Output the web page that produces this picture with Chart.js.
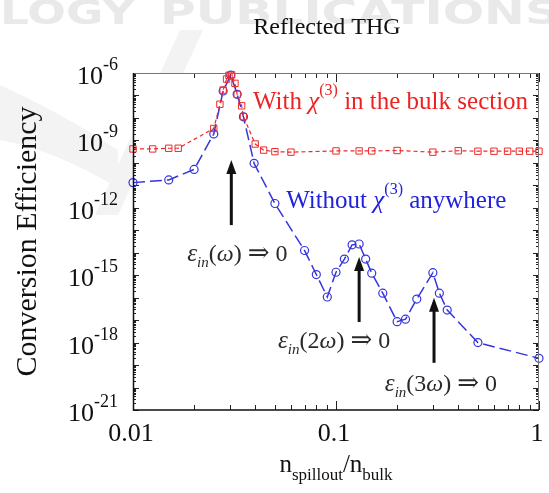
<!DOCTYPE html>
<html><head><meta charset="utf-8">
<script src="https://cdn.jsdelivr.net/npm/chart.js@4/dist/chart.umd.min.js"></script>
<style>html,body{margin:0;padding:0;background:#fff;overflow:hidden}canvas{display:block}</style>
</head><body><canvas id="c" width="549" height="493"></canvas>
<script>
const SERIF = '"Liberation Serif","Times New Roman","DejaVu Serif",serif';

// ---- data ----
const blueX = [0.01, 0.015, 0.02, 0.025, 0.0278, 0.0303, 0.0326, 0.035, 0.0395, 0.05, 0.07, 0.08, 0.0906, 0.1, 0.11, 0.12, 0.13, 0.14, 0.15, 0.17, 0.2, 0.22, 0.25, 0.3, 0.323, 0.353, 0.5, 1.0];
const blueY = [1.32e-11, 1.74e-11, 5.1e-11, 1.95e-9, 1.58e-7, 8.1e-7, 1.12e-7, 1.12e-8, 9.5e-11, 1.55e-12, 1.26e-14, 1.07e-15, 1.07e-16, 1.35e-15, 5.2e-15, 2.24e-14, 2.45e-14, 5.2e-15, 1.23e-15, 1.58e-16, 8.5e-18, 1.1e-17, 8.7e-17, 1.29e-15, 1.58e-16, 2.8e-17, 1.0e-18, 2.0e-19];
const redX = [0.01, 0.0125, 0.015, 0.0167, 0.025, 0.0268, 0.0278, 0.0289, 0.0297, 0.0306, 0.0318, 0.0326, 0.0343, 0.035, 0.04, 0.044, 0.05, 0.06, 0.1, 0.13, 0.15, 0.2, 0.3, 0.4, 0.5, 0.6, 0.7, 0.8, 0.9, 1.0];
const redY = [4.17e-10, 4.17e-10, 4.47e-10, 4.47e-10, 3.39e-9, 4.07e-8, 1.74e-7, 5.37e-7, 7.9e-7, 8.3e-7, 3.47e-7, 1.12e-7, 3.47e-8, 1.15e-8, 6.9e-10, 3.7e-10, 3.16e-10, 3.0e-10, 3.4e-10, 3.4e-10, 3.4e-10, 3.55e-10, 3.0e-10, 3.47e-10, 3.3e-10, 3.3e-10, 3.3e-10, 3.3e-10, 3.3e-10, 3.3e-10];

const xTickValues = [0.01, 0.1, 1];
const xTickLabels = ['0.01', '0.1', '1'];
const yTickValues = [1e-6, 1e-9, 1e-12, 1e-15, 1e-18, 1e-21];
const yTickExponents = ['-6', '-9', '-12', '-15', '-18', '-21'];
const titleText = 'Reflected THG';
const yTitleText = 'Conversion Efficiency';
const redLabel = ['With ', 'χ', '(3)', ' in the bulk section'];
const blueLabel = ['Without ', 'χ', '(3)', ' anywhere'];
const annotationHarmonics = ['ω', '2ω', '3ω'];
// anchors in data space: [x, yTip, yTail]
const arrowAnchors = [[0.0305, 1.35e-10, 1.7e-13], [0.13, 6.5e-15, 8.3e-18], [0.304, 9.8e-17, 1.26e-19]];
// text anchors (left x, middle y) in data space
const textAnchors = [[0.0185, 1.0e-14], [0.0518, 1.3e-18], [0.174, 1.6e-20]];
const redLabelAnchor = [0.039, 5.6e-8];
const blueLabelAnchor = [0.0568, 2.2e-12];

function toPts(xs, ys) { return xs.map((x, i) => ({x: x, y: ys[i]})); }

function rich(ctx, segs, x, y, align) {
  let w = 0;
  segs.forEach(s => { ctx.font = (s.it ? 'italic ' : '') + s.sz + 'px ' + (s.ff || SERIF); s.w = ctx.measureText(s.t).width; w += s.w; });
  let cx = align === 'right' ? x - w : align === 'center' ? x - w / 2 : x;
  ctx.textAlign = 'left';
  ctx.textBaseline = 'alphabetic';
  segs.forEach(s => {
    ctx.font = (s.it ? 'italic ' : '') + s.sz + 'px ' + (s.ff || SERIF);
    ctx.fillStyle = s.c || ctx.fillStyle;
    ctx.fillText(s.t, cx, y + (s.dy || 0));
    cx += s.w;
  });
  return w;
}

const decor = {
  id: 'decor',
  beforeDraw(chart) {
    const ctx = chart.ctx;
    ctx.save();
    ctx.fillStyle = '#fff';
    ctx.fillRect(0, 0, chart.width, chart.height);
    // faint watermark
    ctx.fillStyle = '#e9e9e9';
    ctx.font = 'bold 34px "DejaVu Sans"';
    ctx.textBaseline = 'alphabetic';
    const drawFit = (t, x0, x1, y) => {
      const w = ctx.measureText(t).width;
      ctx.save(); ctx.translate(x0, y); ctx.scale((x1 - x0) / w, 1); ctx.fillText(t, 0, 0); ctx.restore();
    };
    drawFit('LOGY', 0, 135, 24);
    drawFit('PUBLICATIONS', 160, 560, 24);
    ctx.fillStyle = '#f3f3f3';
    ctx.beginPath();
    ctx.moveTo(180, 30); ctx.lineTo(203, 30); ctx.lineTo(118, 215); ctx.lineTo(95, 215); ctx.closePath();
    ctx.fill();
    ctx.beginPath();
    ctx.moveTo(0, 85); ctx.quadraticCurveTo(60, 112, 118, 150);
    ctx.lineTo(118, 188); ctx.quadraticCurveTo(55, 150, 0, 140); ctx.closePath();
    ctx.fill();
    ctx.restore();
  },
  beforeDatasetsDraw(chart) {
    const ctx = chart.ctx, a = chart.chartArea;
    const xs = chart.scales.x, ys = chart.scales.y;
    ctx.save();
    ctx.fillStyle = '#fff';
    ctx.fillRect(a.left, a.top, a.right - a.left, a.bottom - a.top);
    ctx.strokeStyle = '#222';
    ctx.lineWidth = 1;
    for (let e = -2; e <= 0; e++) {
      for (let k = 1; k <= 9; k++) {
        const v = k * Math.pow(10, e);
        if (v > 1.0001) break;
        const px = Math.round(xs.getPixelForValue(v)) + 0.5;
        const len = k === 1 ? 9 : 5;
        ctx.beginPath();
        ctx.moveTo(px, a.bottom); ctx.lineTo(px, a.bottom - len);
        ctx.moveTo(px, a.top); ctx.lineTo(px, a.top + len);
        ctx.stroke();
      }
    }
    for (let e = -21; e <= -6; e++) {
      for (let k = 1; k <= 9; k++) {
        const v = k * Math.pow(10, e);
        if (v > 1.0001e-6) break;
        const py = Math.round(ys.getPixelForValue(v)) + 0.5;
        const len = k === 1 ? 6 : 3;
        ctx.beginPath();
        ctx.moveTo(a.left, py); ctx.lineTo(a.left + len, py);
        ctx.moveTo(a.right, py); ctx.lineTo(a.right - len, py);
        ctx.stroke();
      }
    }
    ctx.restore();
  },
  afterDatasetsDraw(chart) {
    const ctx = chart.ctx, a = chart.chartArea;
    const xs = chart.scales.x, ys = chart.scales.y;
    ctx.save();
    ctx.strokeStyle = '#777';
    ctx.lineWidth = 1;
    ctx.beginPath();
    ctx.moveTo(a.left, a.top + 0.5); ctx.lineTo(a.right, a.top + 0.5);
    ctx.moveTo(a.right - 0.5, a.top); ctx.lineTo(a.right - 0.5, a.bottom);
    ctx.stroke();
    ctx.strokeStyle = '#111';
    ctx.lineWidth = 1.5;
    ctx.beginPath();
    ctx.moveTo(a.left + 0.5, a.top); ctx.lineTo(a.left + 0.5, a.bottom);
    ctx.lineTo(a.right, a.bottom);
    ctx.stroke();

    ctx.fillStyle = '#111';
    ctx.font = '24px ' + SERIF;
    ctx.textAlign = 'center'; ctx.textBaseline = 'middle';
    ctx.fillText(titleText, (a.left + a.right) / 2 - 9, 28);
    yTickValues.forEach((v, i) => {
      const py = ys.getPixelForValue(v);
      rich(ctx, [{t: '10', sz: 26, c: '#111'}, {t: yTickExponents[i], sz: 18, dy: -14, c: '#111'}], a.left - 15, py + 11, 'right');
    });
    xTickValues.forEach((v, i) => {
      const px = xs.getPixelForValue(v);
      rich(ctx, [{t: xTickLabels[i], sz: 26, c: '#111'}], px - 2, 441, 'center');
    });
    rich(ctx, [{t: 'n', sz: 25, c: '#111'}, {t: 'spillout', sz: 17, dy: 8}, {t: '/n', sz: 25}, {t: 'bulk', sz: 17, dy: 8}], (a.left + a.right) / 2, 472, 'center');
    ctx.save();
    ctx.translate(28, (a.top + a.bottom) / 2);
    ctx.rotate(-Math.PI / 2);
    ctx.font = '30px ' + SERIF;
    ctx.textAlign = 'center'; ctx.textBaseline = 'middle';
    ctx.fillStyle = '#111';
    ctx.fillText(yTitleText, 0, 0);
    ctx.restore();

    const rl = [xs.getPixelForValue(redLabelAnchor[0]), ys.getPixelForValue(redLabelAnchor[1])];
    rich(ctx, [{t: redLabel[0], sz: 25, c: '#ee2222'}, {t: redLabel[1], sz: 25, it: true}, {t: redLabel[2], sz: 16, dy: -14}, {t: redLabel[3], sz: 25}], rl[0], rl[1] + 8, 'left');
    const bl = [xs.getPixelForValue(blueLabelAnchor[0]), ys.getPixelForValue(blueLabelAnchor[1])];
    rich(ctx, [{t: blueLabel[0], sz: 25, c: '#2222dd'}, {t: blueLabel[1], sz: 25, it: true}, {t: blueLabel[2], sz: 16, dy: -14}, {t: blueLabel[3], sz: 25}], bl[0], bl[1] + 8, 'left');

    ctx.fillStyle = '#111'; ctx.strokeStyle = '#111';
    arrowAnchors.forEach(an => {
      const px = xs.getPixelForValue(an[0]);
      const tip = ys.getPixelForValue(an[1]);
      const tail = ys.getPixelForValue(an[2]);
      ctx.lineWidth = 3;
      ctx.beginPath(); ctx.moveTo(px, tail); ctx.lineTo(px, tip + 12); ctx.stroke();
      ctx.beginPath(); ctx.moveTo(px, tip); ctx.lineTo(px - 5, tip + 14); ctx.lineTo(px + 5, tip + 14); ctx.closePath(); ctx.fill();
    });
    textAnchors.forEach((an, i) => {
      const px = xs.getPixelForValue(an[0]);
      const py = ys.getPixelForValue(an[1]);
      const h = annotationHarmonics[i];
      const segs = [{t: 'ε', sz: 25, it: true, c: '#2a2a2a'}, {t: 'in', sz: 15, it: true, dy: 6}, {t: '(', sz: 24}];
      if (h.length > 1) segs.push({t: h.slice(0, -1), sz: 24});
      segs.push({t: 'ω', sz: 24, it: true});
      segs.push({t: ') ', sz: 24});
      segs.push({t: '⇒', sz: 26, ff: '"DejaVu Serif"'});
      segs.push({t: ' 0', sz: 24});
      rich(ctx, segs, px, py + 8, 'left');
    });
    ctx.restore();
  }
};

new Chart(document.getElementById('c'), {
  type: 'line',
  data: {
    datasets: [
      {
        label: 'With χ(3) in the bulk section',
        data: toPts(redX, redY),
        borderColor: '#ee2a2a', borderWidth: 1.2, borderDash: [4, 3],
        pointStyle: 'rect', pointRadius: 4.5, pointBorderWidth: 1,
        pointBorderColor: '#ee2a2a', pointBackgroundColor: 'rgba(255,255,255,0)',
        tension: 0, clip: 6
      },
      {
        label: 'Without χ(3) anywhere',
        data: toPts(blueX, blueY),
        borderColor: '#3535dd', borderWidth: 1.5, borderDash: [12, 5],
        pointStyle: 'circle', pointRadius: 4, pointBorderWidth: 1.2,
        pointBorderColor: '#3535dd', pointBackgroundColor: 'rgba(255,255,255,0)',
        tension: 0, clip: 6
      }
    ]
  },
  options: {
    responsive: false, animation: false, devicePixelRatio: 1,
    layout: {padding: {left: 0, right: 10, top: 73, bottom: 0}},
    plugins: {legend: {display: false}, title: {display: false}, tooltip: {enabled: false}},
    scales: {
      x: {type: 'logarithmic', min: 0.01, max: 1, ticks: {display: false}, grid: {display: false}, border: {display: false},
          afterFit: s => { s.height = 83; }},
      y: {type: 'logarithmic', min: 1e-21, max: 1e-6, ticks: {display: false}, grid: {display: false}, border: {display: false},
          afterFit: s => { s.width = 133; }}
    }
  },
  plugins: [decor]
});
</script>
</body></html>
